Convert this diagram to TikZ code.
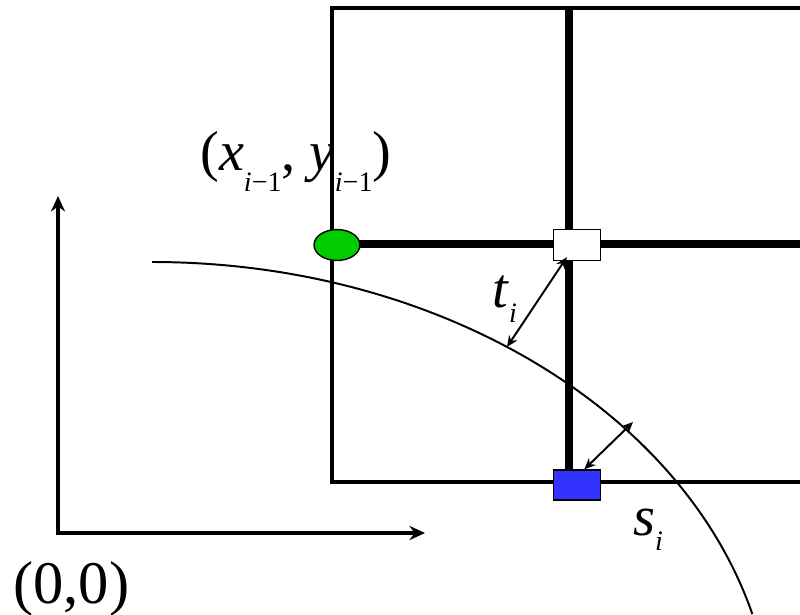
\documentclass[tikz,border=0pt]{standalone}
\usepackage{fontspec}
\setmainfont{Liberation Serif}
\usetikzlibrary{arrows.meta, positioning, shapes.geometric, calc}
\definecolor{cgreen}{HTML}{00CC00}
\definecolor{cblue}{HTML}{3333FF}
\newcommand{\lowsub}[2][15pt]{\raisebox{-#1}{\fontsize{20}{20}\selectfont #2}}
\tikzset{
  gridline/.style={draw=black, line width=3.5pt},
  thickline/.style={draw=black, line width=6pt},
  axis/.style={line width=3.2pt, {Stealth[length=11pt, width=10pt]}-{Stealth[length=11pt, width=10pt]}},
  curve/.style={line width=1.4pt},
  dist/.style={line width=1.4pt, {Stealth[length=8pt, width=7pt]}-{Stealth[length=8pt, width=7pt]}},
  marker/.style={draw=black, line width=1pt, minimum width=33.4pt, minimum height=22pt, inner sep=0pt},
  lab/.style={font=\fontsize{40}{44}\selectfont, inner sep=0pt, anchor=base west},
}

\begin{document}
\begin{tikzpicture}[x=0.025cm, y=0.025cm]
  \useasboundingbox[fill=white] (0,0) rectangle (800,614);
  % the label sits under the left grid line
  \node[lab] (prevlab) at (200,444) {(\textit{x}\lowsub{\textit{i}−1}, \textit{y}\lowsub{\textit{i}−1})};
  \draw[gridline] (800,132) -- (332,132) -- (332,606) -- (800,606);
  \draw[thickline] (569,606) -- (569,132);
  \draw[thickline] (337,370) -- (800,370);
  \node[marker, ellipse, fill=cgreen, minimum width=32.7pt] (prev) at (337,369) {};
  \node[marker, fill=white] (tnode) at (577,369) {};
  \node[marker, fill=cblue, minimum height=21.3pt] (snode) at (577,129) {};
  \coordinate (origin) at (58,81);
  \draw[axis] (58,418) -- (origin) -- (425,81);
  \draw[curve] (152,352) arc[start angle=90, end angle=14.8, x radius=621, y radius=473];
  \coordinate (tfoot) at (507,267);
  \coordinate (shead) at (633,192);
  \draw[dist] ($(tnode.south west)+(14,4)$) -- (tfoot);
  \draw[dist] (snode.65) -- (shead);
  \node[lab] (tlab) at (492,307) {\textit{t}\lowsub[11pt]{\textit{i}}};
  \node[lab] (slab) at (633,79) {\textit{s}\lowsub[11pt]{\textit{i}}};
  \node[lab, font=\fontsize{43}{46}\selectfont] (orig) at (13,11) {(0,0)};
\end{tikzpicture}
\end{document}
